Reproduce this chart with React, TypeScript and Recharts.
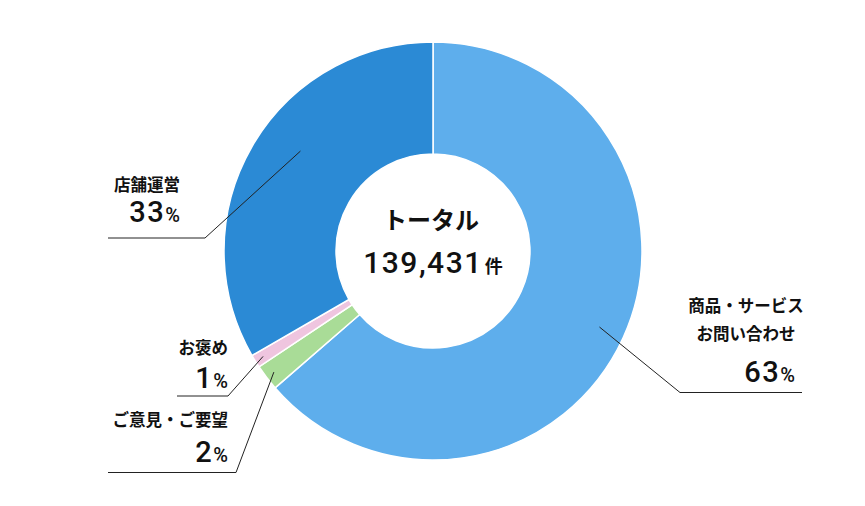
import React from 'react';
import { PieChart, Pie, Cell } from 'recharts';

// inquiry categories, clockwise from 12 o'clock
const categories = ['商品・サービスお問い合わせ', 'ご意見・ご要望', 'お褒め', '店舗運営'];
const labelLines = [['商品・サービス', 'お問い合わせ'], ['ご意見・ご要望'], ['お褒め'], ['店舗運営']];
const shares = [63, 2, 1, 33];
const colors = ['#5EAEEC', '#A9DC97', '#EFC5DF', '#2B8AD5'];
const totalTitle = 'トータル';
const totalCount = '139,431';
const totalUnit = '件';

const W = 865;
const H = 506;
const CX = 433;
const CY = 251;
const FONT = "'Noto Sans CJK JP', sans-serif";
const NUM_FONT = "Roboto, 'Liberation Sans', sans-serif";

// leader line + text placement for each slice (da = angle nudge in degrees)
const labelLayout = [
  { r: 183, da: 0, ex: 680, ey: 392.5, endX: 802, anchor: 'middle', tx: 746, ty: [312, 340], px: 795, py: 382 },
  { r: 200, da: 0, ex: 236, ey: 472.5, endX: 108, anchor: 'end', tx: 228, ty: [426], px: 228, py: 462 },
  { r: 200, da: 0, ex: 228, ey: 396, endX: 177, anchor: 'end', tx: 228, ty: [354], px: 228, py: 388 },
  { r: 166, da: -7, ex: 205, ey: 238, endX: 108, anchor: 'end', tx: 180, ty: [191], px: 180, py: 222 },
];

const data = categories.map((name, i) => ({ name, value: shares[i] }));

const renderLabel = (props: any) => {
  const { midAngle, index } = props;
  const lay = labelLayout[index];
  const rad = (-(midAngle + lay.da) * Math.PI) / 180;
  const sx = CX + lay.r * Math.cos(rad);
  const sy = CY + lay.r * Math.sin(rad);
  return (
    <g key={`lbl-${index}`}>
      <polyline
        points={`${sx},${sy} ${lay.ex},${lay.ey} ${lay.endX},${lay.ey}`}
        fill="none"
        stroke="#222"
        strokeWidth={1}
      />
      {labelLines[index].map((line, j) => (
        <text
          key={j}
          x={lay.tx}
          y={lay.ty[j]}
          textAnchor={lay.anchor}
          fontFamily={FONT}
          fontSize={16.5}
          fontWeight="bold"
          fill="#111"
        >
          {line}
        </text>
      ))}
      <text x={lay.px} y={lay.py} textAnchor="end" fontFamily={NUM_FONT} fontWeight={500} fill="#111">
        <tspan fontSize={29} letterSpacing={1.5}>{shares[index]}</tspan>
        <tspan fontSize={20}>%</tspan>
      </text>
    </g>
  );
};

export default function App() {
  return (
    <div style={{ position: 'absolute', left: 0, top: 0, width: W, height: H, background: '#fff' }}>
      <PieChart width={W} height={H} margin={{ top: 0, right: 0, bottom: 0, left: 0 }}>
        <Pie
          data={data}
          dataKey="value"
          nameKey="name"
          cx={CX}
          cy={CY}
          innerRadius={97}
          outerRadius={209}
          startAngle={90}
          endAngle={-270}
          stroke="#fff"
          strokeWidth={1.5}
          label={renderLabel}
          labelLine={false}
          isAnimationActive={false}
        >
          {data.map((d, i) => (
            <Cell key={d.name} fill={colors[i]} />
          ))}
        </Pie>
        <text x={431} y={229} textAnchor="middle" fontFamily={FONT} fontSize={24} fontWeight="bold" fill="#111">
          {totalTitle}
        </text>
        <text x={433} y={273} textAnchor="middle" fontFamily={NUM_FONT} fontWeight={500} fill="#111">
          <tspan fontSize={30} letterSpacing={1.5}>{totalCount}</tspan>
          <tspan fontSize={18} fontFamily={FONT} fontWeight="bold" dx={2}>{totalUnit}</tspan>
        </text>
      </PieChart>
    </div>
  );
}
